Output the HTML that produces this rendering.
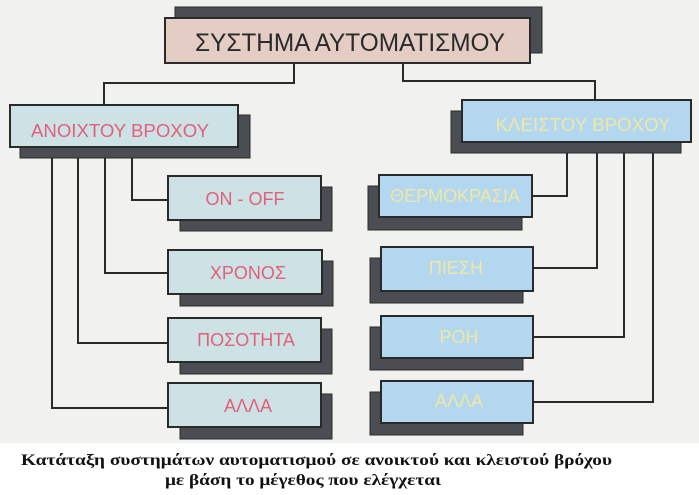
<!DOCTYPE html>
<html><head><meta charset="utf-8"><style>
html,body{margin:0;padding:0;background:#fff;width:699px;height:495px;overflow:hidden}
svg{display:block}
.t{font-family:"Liberation Sans",sans-serif;text-anchor:middle}
.c{font-family:"Liberation Serif",serif;font-weight:bold;font-size:16px;fill:#111}
</style></head><body>
<svg width="699" height="495" viewBox="0 0 699 495" xmlns="http://www.w3.org/2000/svg">
<rect x="0" y="0" width="699" height="443" fill="#f1f1ef"/>
<g fill="none" stroke="#2a2a2a" stroke-width="2">
<polyline points="294,63 294,83 104,83 104,105"/>
<polyline points="403,63 403,81 595,81 595,100"/>
<polyline points="132,147 132,200 168,200"/>
<polyline points="105,147 105,273 168,273"/>
<polyline points="78,147 78,343 168,343"/>
<polyline points="52,147 52,408 168,408"/>
<polyline points="567,142 567,196 532,196"/>
<polyline points="597,142 597,268 533,268"/>
<polyline points="624,142 624,337 533,337"/>
<polyline points="653,142 653,402 533,402"/>
</g>
<g fill="#4a4e52" stroke="#2a2a2a" stroke-width="1">
<rect x="175" y="7" width="367" height="46"/>
<rect x="20" y="115" width="230" height="43"/>
<rect x="180" y="187" width="152" height="44"/>
<rect x="180" y="261" width="153" height="45"/>
<rect x="180" y="329" width="152" height="45"/>
<rect x="180" y="394" width="152" height="45"/>
<rect x="451" y="111" width="230" height="42"/>
<rect x="368" y="186" width="154" height="44"/>
<rect x="370" y="258" width="153" height="45"/>
<rect x="370" y="327" width="153" height="43"/>
<rect x="370" y="392" width="153" height="43"/>
</g>
<g stroke="#2a2a2a" stroke-width="2">
<rect x="165" y="18" width="365" height="45" fill="#e3cdc4"/>
<g fill="#cce2e5">
<rect x="10" y="105" width="228" height="42"/>
<rect x="168" y="176" width="153" height="44"/>
<rect x="168" y="250" width="154" height="44"/>
<rect x="168" y="318" width="153" height="44"/>
<rect x="168" y="383" width="153" height="44"/>
</g>
<g fill="#b3d7ef">
<rect x="462" y="100" width="229" height="42"/>
<rect x="379" y="175" width="153" height="42"/>
<rect x="381" y="247" width="152" height="44"/>
<rect x="381" y="316" width="152" height="42"/>
<rect x="381" y="381" width="152" height="42"/>
</g>
</g>
<text class="t" x="350" y="51" font-size="25" fill="#2a2a2a" textLength="310" lengthAdjust="spacingAndGlyphs">ΣΥΣΤΗΜΑ ΑΥΤΟΜΑΤΙΣΜΟΥ</text>
<g fill="#e2607c" font-size="18">
<text class="t" x="120" y="137" textLength="178" lengthAdjust="spacingAndGlyphs">ΑΝΟΙΧΤΟΥ ΒΡΟΧΟΥ</text>
<text class="t" x="245" y="205">ON - OFF</text>
<text class="t" x="248" y="279">ΧΡΟΝΟΣ</text>
<text class="t" x="246" y="346">ΠΟΣΟΤΗΤΑ</text>
<text class="t" x="248" y="412">ΑΛΛΑ</text>
</g>
<g fill="#efe7a6" font-size="18">
<text class="t" x="583" y="131" textLength="175" lengthAdjust="spacingAndGlyphs">ΚΛΕΙΣΤΟΥ ΒΡΟΧΟΥ</text>
<text class="t" x="455" y="202">ΘΕΡΜΟΚΡΑΣΙΑ</text>
<text class="t" x="456" y="274">ΠΙΕΣΗ</text>
<text class="t" x="459" y="343">ΡΟΗ</text>
<text class="t" x="459" y="407">ΑΛΛΑ</text>
</g>
<text class="c" x="21" y="465" textLength="591" lengthAdjust="spacingAndGlyphs">Κατάταξη συστημάτων αυτοματισμού σε ανοικτού και κλειστού βρόχου</text>
<text class="c" x="165" y="485" textLength="276" lengthAdjust="spacingAndGlyphs">με βάση το μέγεθος που ελέγχεται</text>
</svg>
</body></html>
